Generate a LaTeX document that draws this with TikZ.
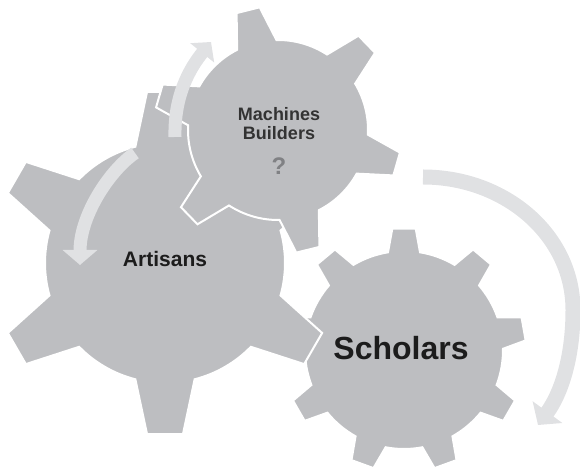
\documentclass[tikz,border=0pt]{standalone}
\usepackage{fontspec}
\setmainfont{Liberation Sans}
\usetikzlibrary{arrows.meta}
\definecolor{gearc}{RGB}{189,190,193}
\definecolor{arrowc}{RGB}{224,225,227}
\definecolor{txtc}{RGB}{28,28,28}
\definecolor{qc}{RGB}{128,129,132}
\tikzset{
  gearbody/.style={fill=gearc, draw=white, line width=2pt, line join=miter},
  turnarrow/.style={draw=arrowc, line width=#1},
  gtext/.style={inner sep=0pt, text=txtc},
}
\begin{document}
\begin{tikzpicture}[x=1pt,y=1pt]
\useasboundingbox (0,0) rectangle (580,473);
\clip (0,0) rectangle (580,473);
% Scholars gear (9 teeth)
\filldraw[gearbody, shift={(404,123)}] ({90-9.3}:99)
  \foreach \a in {90,130,...,410} {
    -- ({\a-5.5}:122) -- ({\a+5.5}:122) -- ({\a+9.3}:99)
    arc[start angle={\a+9.3}, end angle={\a+40-9.3}, radius=99] } -- cycle;
% Artisans gear (6 teeth)
\filldraw[gearbody, shift={(165,210)}] ({90-14.3}:120)
  \foreach \a in {90,150,...,390} {
    -- ({\a-6}:172) -- ({\a+6}:172) -- ({\a+14.3}:120)
    arc[start angle={\a+14.3}, end angle={\a+60-14.3}, radius=120] } -- cycle;
% Machines Builders gear (6 teeth)
\filldraw[gearbody, shift={(278,343)}] ({104-13}:90)
  \foreach \a in {104,164,...,404} {
    -- ({\a-5.5}:124) -- ({\a+5.5}:124) -- ({\a+13}:90)
    arc[start angle={\a+13}, end angle={\a+60-13}, radius=90] } -- cycle;
% arrows
\coordinate (a1s) at (135,320);
\coordinate (a1e) at (80,208);
\draw[turnarrow=13pt, -{Triangle[width=34pt,length=15pt]}]
  (a1s) .. controls (110,303) and (80,258) .. (a1e);
\coordinate (a2s) at (175,336);
\coordinate (a2e) at (211,431);
\draw[turnarrow=13pt, -{Triangle[width=30pt,length=14pt]}]
  (a2s) .. controls (174,378) and (190,405) .. (a2e);
\coordinate (a3s) at (423,296);
\coordinate (a3m) at (573,163);
\coordinate (a3e) at (538,48);
\draw[turnarrow=15pt, -{Triangle[width=36pt,length=16pt]}]
  (a3s) .. controls (505,296) and (573,238) .. (a3m)
  .. controls (573,113) and (560,78) .. (a3e);
% texts
\node[gtext, font=\fontsize{21}{25}\selectfont\bfseries] (art) at (165,214) {Artisans};
\node[gtext, font=\fontsize{32}{38}\selectfont\bfseries] (sch) at (401,125) {Scholars};
\node[gtext, font=\fontsize{18}{22}\selectfont\bfseries, text=txtc!90!white] (mach) at (279,359) {Machines};
\node[gtext, font=\fontsize{18}{22}\selectfont\bfseries, text=txtc!90!white] (build) at (279,340) {Builders};
\node[gtext, font=\fontsize{24}{28}\selectfont\bfseries, text=qc] (q) at (279,307) {?};
\end{tikzpicture}
\end{document}
